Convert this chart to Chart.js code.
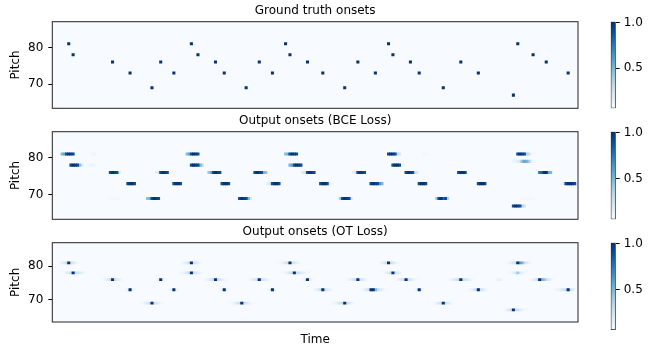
<!DOCTYPE html>
<html>
<head>
<meta charset="utf-8">
<script src="https://cdn.jsdelivr.net/npm/chart.js@4.4.1/dist/chart.umd.min.js"></script>
<style>
  html, body { margin: 0; padding: 0; background: #fff; }
  #wrap { position: relative; width: 657px; height: 347px; overflow: hidden; }
  #wrap canvas { position: absolute; }
</style>
</head>
<body>
<div id="wrap"></div>
<script>
// ---- data ----
const numFrames = 240;
const pitchTicks = [70, 80];
const colorTicks = [0.5, 1.0];
const colorMin = 0.06;
const colorMax = 1.01;
const panelTitles = ['Ground truth onsets', 'Output onsets (BCE Loss)', 'Output onsets (OT Loss)'];

// ground truth: one onset frame per note
const truthFrames  = [7, 9, 27, 35, 45, 49, 55, 63, 66, 74, 78, 88, 94, 100, 106, 108, 116, 123,
                      133, 139, 147, 153, 155, 163, 167, 178, 186, 194, 210, 212, 219, 225, 235];
const truthPitches = [81, 78, 76, 73, 69, 76, 73, 81, 78, 76, 73, 69, 76, 73, 81, 78, 76, 73,
                      69, 76, 73, 81, 78, 76, 73, 69, 76, 73, 67, 81, 78, 76, 73];

// BCE output: pitch, first frame, then values frame by frame
const bcePitches = [81, 81, 78, 78, 76, 73, 69, 69, 76, 73, 81, 78, 76, 73, 69, 76, 73, 81, 78, 76, 73,
                    69, 76, 73, 81, 78, 76, 73, 81, 69, 76, 73, 67, 81, 79, 69, 76, 73];
const bceStarts  = [4, 18, 8, 16, 26, 34, 26, 43, 47, 55, 61, 63, 71, 77, 85, 92, 98, 106, 108, 114, 122,
                    131, 137, 145, 153, 155, 161, 167, 169, 175, 185, 194, 210, 212, 210, 214, 222, 232];
const bceValues  = [
  [0.5, 0.55, 0.9, 1, 0.95, 0.9],
  [0.1, 0.1],
  [0.9, 1, 0.95, 0.9, 0.45, 0.2],
  [0.1, 0.12, 0.12, 0.1],
  [0.9, 1, 0.95, 0.9, 0.2],
  [0.9, 1, 1, 0.9],
  [0.08, 0.08, 0.08, 0.08, 0.08],
  [0.45, 0.5, 0.9, 1, 0.95, 0.9],
  [0.15, 0.2, 0.9, 1, 0.95, 0.9],
  [0.9, 1, 1, 0.9],
  [0.45, 0.55, 0.9, 1, 0.95, 0.9],
  [0.9, 1, 0.95, 0.9, 0.5, 0.3],
  [0.4, 0.5, 0.9, 1, 0.95, 0.9],
  [0.9, 1, 1, 0.9],
  [0.9, 1, 0.95, 0.9, 0.5, 0.2],
  [0.9, 1, 0.95, 0.9, 0.5, 0.45],
  [0.15, 0.2, 0.9, 1, 1, 0.9],
  [0.45, 0.5, 0.9, 1, 0.95, 0.9],
  [0.5, 0.55, 0.9, 1, 0.95, 0.9],
  [0.2, 0.25, 0.9, 1, 0.95, 0.9],
  [0.9, 1, 1, 0.9, 0.15, 0.1],
  [0.4, 0.9, 1, 0.95, 0.9, 0.2],
  [0.15, 0.2, 0.9, 1, 0.95, 0.9],
  [0.9, 1, 0.95, 0.9, 0.6, 0.5],
  [0.9, 1, 0.95, 0.9, 0.3, 0.2],
  [0.9, 1, 1, 0.9],
  [0.9, 1, 0.95, 0.9, 0.3, 0.2],
  [0.9, 1, 1, 0.9],
  [0.08, 0.08, 0.08],
  [0.4, 0.9, 1, 0.8, 0.9, 0.35],
  [0.9, 1, 1, 0.9],
  [0.9, 1, 1, 0.9],
  [0.9, 1, 0.95, 0.9, 0.35, 0.25],
  [0.9, 1, 0.95, 0.9, 0.35, 0.3, 0.1, 0.08, 0.07, 0.06],
  [0.1, 0.12, 0.15, 0.2, 0.45, 0.55, 0.5, 0.4, 0.15, 0.1, 0.08, 0.06],
  [0.08, 0.08, 0.08, 0.08, 0.08, 0.08],
  [0.75, 0.8, 1, 1, 0.55, 0.5],
  [0.1, 0.15, 0.9, 1, 1, 0.95, 0.9]
];

// OT output: pitch, first frame, then values frame by frame
const otPitches = [81, 78, 76, 73, 69, 76, 73, 81, 78, 76, 73, 69, 76, 73, 81, 78, 76, 73,
                   69, 76, 73, 81, 78, 76, 73, 69, 76, 73, 76, 67, 81, 78, 76, 73];
const otStarts  = [3, 5, 23, 33, 40, 47, 53, 59, 58, 69, 76, 81, 89, 98, 103, 105, 114, 119,
                   127, 134, 141, 149, 151, 156, 165, 174, 180, 190, 203, 206, 207, 208, 218, 229];
const otValues  = [
  [0.09, 0.13, 0.19, 0.26, 1, 0.26, 0.19, 0.13, 0.09],
  [0.09, 0.13, 0.19, 0.26, 1, 0.28, 0.23, 0.18, 0.13, 0.1, 0.08],
  [0.09, 0.13, 0.18, 0.26, 1, 0.26, 0.18, 0.13, 0.09],
  [0.08, 0.13, 1, 0.13, 0.08],
  [0.08, 0.1, 0.15, 0.2, 0.26, 1, 0.26, 0.2, 0.15, 0.1, 0.08],
  [0.08, 0.13, 1, 0.13, 0.08],
  [0.08, 0.13, 1, 0.13, 0.08],
  [0.09, 0.13, 0.19, 0.26, 1, 0.26, 0.19, 0.13, 0.09],
  [0.08, 0.1, 0.15, 0.2, 0.26, 1, 0.28, 0.2, 0.15, 0.1, 0.08],
  [0.08, 0.1, 0.15, 0.2, 0.26, 1, 0.28, 0.2, 0.15, 0.1, 0.08],
  [0.08, 0.13, 1, 0.13, 0.08],
  [0.08, 0.1, 0.15, 0.2, 0.26, 1, 0.28, 0.2, 0.15, 0.1, 0.08],
  [0.08, 0.1, 0.15, 0.2, 0.26, 1, 0.26, 0.2, 0.15, 0.1, 0.08],
  [0.08, 0.13, 1, 0.13, 0.08],
  [0.08, 0.1, 0.15, 0.2, 0.26, 1, 0.26, 0.2, 0.15, 0.1, 0.08],
  [0.08, 0.1, 0.15, 0.2, 0.26, 1, 0.28, 0.23, 0.18, 0.13, 0.1, 0.08],
  [0.1, 0.15, 1, 0.15, 0.1],
  [0.08, 0.13, 0.18, 0.26, 1, 0.26, 0.18, 0.13, 0.09],
  [0.08, 0.1, 0.13, 0.18, 0.23, 0.28, 1, 0.26, 0.19, 0.13, 0.09],
  [0.08, 0.1, 0.15, 0.2, 0.26, 1, 0.26, 0.19, 0.13, 0.09],
  [0.08, 0.13, 0.19, 0.26, 1, 1, 0.5, 0.28, 0.2, 0.15, 0.1, 0.08],
  [0.08, 0.13, 0.19, 0.26, 1, 0.28, 0.2, 0.15, 0.1, 0.08],
  [0.08, 0.13, 0.19, 0.26, 1, 0.26, 0.19, 0.13, 0.08],
  [0.08, 0.1, 0.15, 0.2, 0.26, 1, 0.26, 0.2, 0.15, 0.1, 0.08],
  [0.08, 0.13, 1, 0.13, 0.08],
  [0.08, 0.13, 0.19, 0.26, 1, 0.26, 0.19, 0.13, 0.08],
  [0.08, 0.1, 0.13, 0.18, 0.23, 0.28, 1, 0.28, 0.23, 0.18, 0.13, 0.1],
  [0.08, 0.13, 0.19, 0.26, 1, 0.26, 0.19, 0.13, 0.08],
  [0.13, 0.13],
  [0.08, 0.13, 0.19, 0.26, 1, 0.28, 0.23, 0.18, 0.13, 0.1, 0.08],
  [0.08, 0.1, 0.15, 0.2, 0.26, 1, 0.6, 0.5, 0.28, 0.18, 0.13, 0.09],
  [0.08, 0.1, 0.15, 0.2, 0.4, 0.18, 0.13, 0.1, 0.08],
  [0.08, 0.13, 0.19, 0.26, 1, 0.5, 0.45, 0.28, 0.19, 0.13, 0.08],
  [0.08, 0.1, 0.13, 0.18, 0.23, 0.28, 1, 0.26, 0.18, 0.1]
];

// ---- style ----
const FONT = "'DejaVu Sans', sans-serif";
Chart.defaults.font.family = FONT;
Chart.defaults.font.size = 12;
Chart.defaults.color = '#000';

const bluesStops = ['#f7fbff', '#deebf7', '#c6dbef', '#9ecae1', '#6baed6', '#4292c6', '#2171b5', '#08519c', '#08306b'];
const cellHalf = 0.42;

function hexRgb(h) {
  return [parseInt(h.slice(1, 3), 16), parseInt(h.slice(3, 5), 16), parseInt(h.slice(5, 7), 16)];
}
const bluesRgb = bluesStops.map(hexRgb);

function blues(v) {
  let t = (v - colorMin) / (colorMax - colorMin);
  t = Math.max(0, Math.min(1, t)) * (bluesRgb.length - 1);
  const i = Math.min(Math.floor(t), bluesRgb.length - 2);
  const f = t - i;
  const a = bluesRgb[i], b = bluesRgb[i + 1];
  const c = a.map((x, k) => Math.round(x + (b[k] - x) * f));
  return `rgb(${c[0]},${c[1]},${c[2]})`;
}

function truthCells() {
  return truthFrames.map((f, i) => ({ x: f + 0.5, y: [truthPitches[i] - cellHalf, truthPitches[i] + cellHalf], v: 1 }));
}

function blobCells(pitches, starts, values) {
  const cells = [];
  pitches.forEach((p, i) => {
    values[i].forEach((v, k) => {
      cells.push({ x: starts[i] + k + 0.5, y: [p - cellHalf, p + cellHalf], v: v });
    });
  });
  // light cells first so dark ones stay on top where they overlap
  return cells.sort((a, b) => a.v - b.v);
}

// background and frame of each image panel
const framePlugin = {
  id: 'frame',
  beforeDatasetsDraw(chart) {
    const a = chart.chartArea, ctx = chart.ctx;
    ctx.save();
    ctx.fillStyle = bluesStops[0];
    ctx.fillRect(a.left, a.top, a.width, a.height);
    ctx.restore();
  },
  afterDatasetsDraw(chart) {
    const a = chart.chartArea, ctx = chart.ctx;
    ctx.save();
    ctx.strokeStyle = '#222';
    ctx.lineWidth = 1;
    ctx.strokeRect(a.left, a.top, a.width, a.height);
    ctx.restore();
  }
};

const panelTop = [0, 110, 221];
const panelHeight = [110, 111, 126];
const panelBottomPad = [1.7, 1.7, 17];

function addCanvas(left, top, w, h) {
  const c = document.createElement('canvas');
  c.width = w; c.height = h;
  c.style.left = left + 'px'; c.style.top = top + 'px';
  c.style.width = w + 'px'; c.style.height = h + 'px';
  document.getElementById('wrap').appendChild(c);
  return c;
}

function makeHeatmap(idx, cells) {
  const showTime = idx === 2;
  const canvas = addCanvas(0, panelTop[idx], 590, panelHeight[idx]);
  return new Chart(canvas, {
    type: 'bar',
    data: {
      datasets: [{
        data: cells,
        backgroundColor: c => blues(c.raw ? c.raw.v : 0),
        borderWidth: 0,
        barPercentage: 1.4,
        categoryPercentage: 1,
        grouped: false
      }]
    },
    options: {
      responsive: false,
      animation: false,
      events: [],
      layout: { padding: { left: 0, right: 12, top: 0, bottom: showTime ? 0 : panelBottomPad[idx] } },
      plugins: {
        legend: { display: false },
        tooltip: { enabled: false },
        title: {
          display: true,
          text: panelTitles[idx],
          fullSize: false,
          color: '#000',
          font: { size: 12, weight: 'normal' },
          padding: { top: 3.8, bottom: 3.5 }
        }
      },
      scales: {
        x: {
          type: 'linear',
          min: 0,
          max: numFrames,
          offset: false,
          display: showTime,
          ticks: { display: false, stepSize: 1 },
          grid: { display: false, offset: false },
          border: { display: false },
          title: { display: showTime, text: 'Time', color: '#000', font: { size: 12 }, padding: { top: 2.6, bottom: 0 } }
        },
        y: {
          type: 'linear',
          min: 63.4,
          max: 87,
          afterBuildTicks: s => { s.ticks = pitchTicks.map(v => ({ value: v })); },
          afterFit: s => { s.width = 52.3; s.paddingTop = 0; s.paddingBottom = 0; },
          ticks: { color: '#000', padding: 5, font: { size: 12 }, callback: v => String(v) },
          grid: { drawOnChartArea: false, drawTicks: true, tickLength: 4, color: '#000', lineWidth: 1 },
          border: { display: false },
          title: { display: true, text: 'Pitch', color: '#000', font: { size: 12 }, padding: { top: 8.8, bottom: 0 } }
        }
      }
    },
    plugins: [framePlugin]
  });
}

function makeColorbar(idx) {
  const canvas = addCanvas(600, panelTop[idx], 57, panelHeight[idx]);
  return new Chart(canvas, {
    type: 'bar',
    data: {
      labels: [''],
      datasets: [{
        data: [[colorMin, colorMax]],
        backgroundColor: c => {
          const chart = c.chart;
          if (!chart.chartArea || !chart.scales.y) return bluesStops[4];
          const y = chart.scales.y;
          const g = chart.ctx.createLinearGradient(0, y.getPixelForValue(colorMin), 0, y.getPixelForValue(colorMax));
          bluesStops.forEach((col, i) => g.addColorStop(i / (bluesStops.length - 1), col));
          return g;
        },
        borderColor: '#222',
        borderWidth: 1,
        borderSkipped: false,
        barPercentage: 1,
        categoryPercentage: 1
      }]
    },
    options: {
      responsive: false,
      animation: false,
      events: [],
      layout: { padding: { left: 10.7, right: 0, top: 21.7, bottom: panelBottomPad[idx] } },
      plugins: { legend: { display: false }, tooltip: { enabled: false } },
      scales: {
        x: { display: false },
        y: {
          position: 'right',
          min: colorMin,
          max: colorMax,
          afterBuildTicks: s => { s.ticks = colorTicks.map(v => ({ value: v })); },
          afterFit: s => { s.width = 41.3; s.paddingTop = 0; s.paddingBottom = 0; },
          ticks: { color: '#000', padding: 4, font: { size: 12 }, callback: v => Number(v).toFixed(1) },
          grid: { drawOnChartArea: false, drawTicks: true, tickLength: 4, color: '#000', lineWidth: 1 },
          border: { display: false }
        }
      }
    }
  });
}

makeHeatmap(0, truthCells());
makeHeatmap(1, blobCells(bcePitches, bceStarts, bceValues));
makeHeatmap(2, blobCells(otPitches, otStarts, otValues));
[0, 1, 2].forEach(makeColorbar);
</script>
</body>
</html>
